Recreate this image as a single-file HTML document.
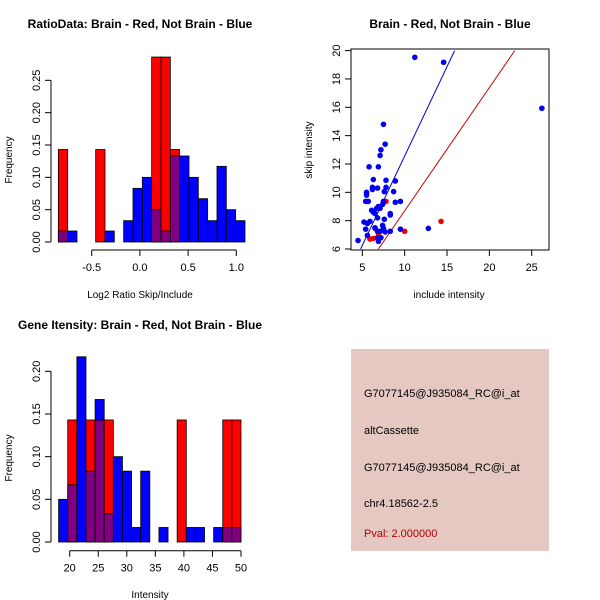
<!DOCTYPE html>
<html><head><meta charset="utf-8"><style>
html,body{margin:0;padding:0;background:#fff;}
svg{display:block;font-family:"Liberation Sans",sans-serif;}
</style></head><body>
<svg id="c" width="600" height="600" xmlns="http://www.w3.org/2000/svg">
<rect width="600" height="600" fill="#fff"/>
<g id="p1"></g>
<g id="p2"></g>
<g id="p3"></g>
<g>
<rect x="351" y="349" width="198" height="202" fill="#e5c8c2"/>
<text x="364" y="397" font-size="11" fill="#000">G7077145@J935084_RC@i_at</text>
<text x="364" y="434" font-size="11" fill="#000">altCassette</text>
<text x="364" y="471" font-size="11" fill="#000">G7077145@J935084_RC@i_at</text>
<text x="364" y="507" font-size="11" fill="#000">chr4.18562-2.5</text>
<text x="364" y="537" font-size="11" fill="#b00000">Pval: 2.000000</text>
</g>
</svg>
<script>
// ---- Plot 1 data: ratio histogram ----
const ratioBinStart = -0.846;
const ratioBinWidth = 0.0968;
const ratioRed  = [0.143,0,0,0,0.143,0,0,0,0,0,0.286,0.286,0.143,0,0,0,0,0,0,0];
const ratioBlue = [0.017,0.017,0,0,0,0.017,0,0.033,0.083,0.1,0.05,0.017,0.133,0.133,0.1,0.067,0.033,0.117,0.05,0.033];
const ratioXTicks = [-0.5,0,0.5,1.0];
const ratioXLabels = ["-0.5","0.0","0.5","1.0"];
const ratioYTicks = [0,0.05,0.10,0.15,0.20,0.25];
const ratioYLabels = ["0.00","0.05","0.10","0.15","0.20","0.25"];
// ---- Plot 2 data: scatter ----
const blueX = [11.2,14.6,26.2,7.5,7.7,7.2,7.1,5.8,6.9,6.3,7.8,8.9,5.5,5.5,6.2,6.2,6.8,7.8,7.6,8.7,5.4,5.7,7.5,7.4,8.9,9.5,6.1,6.3,6.7,6.9,7.1,6.5,6.8,8.3,8.3,7.6,5.2,5.6,5.9,7.4,7.5,5.4,6.5,6.8,7.1,7.7,8.3,9.5,12.8,5.6,6.8,7.2,6.9,4.5];
const blueY = [19.53,19.18,15.93,14.8,13.4,13.0,12.6,11.8,11.8,10.9,10.85,10.8,10.0,9.8,10.35,10.2,10.3,10.35,10.05,10.05,9.36,9.36,9.36,9.15,9.3,9.36,8.73,8.6,8.87,9.0,8.87,8.5,8.2,8.4,8.5,8.1,7.9,7.8,7.95,7.67,7.45,7.4,7.5,7.25,7.25,7.2,7.25,7.4,7.45,6.96,6.8,6.8,6.54,6.6];
const redX = [7.8,14.3,10.0,6.5,5.9,6.3,6.9];
const redY = [9.36,7.95,7.25,7.45,6.7,6.75,7.1];
const blueLine = [[4.8,6],[15.9,20]];
const redLine = [[6.9,6],[23,20]];
const scXTicks = [5,10,15,20,25];
const scYTicks = [6,8,10,12,14,16,18,20];
// ---- Plot 3 data: gene intensity histogram ----
const geneBinStart = 18.06;
const geneBinWidth = 1.597;
const geneRed  = [0,0.143,0,0.143,0.143,0.143,0,0,0,0,0,0,0,0.143,0,0,0,0,0.143,0.143];
const geneBlue = [0.05,0.067,0.217,0.083,0.167,0.033,0.1,0.083,0.017,0.083,0,0.017,0,0,0.017,0.017,0,0.017,0.017,0.017];
const geneXTicks = [20,25,30,35,40,45,50];
const geneYTicks = [0,0.05,0.10,0.15,0.20];
const geneYLabels = ["0.00","0.05","0.10","0.15","0.20"];

const NS="http://www.w3.org/2000/svg";
function mk(parent,tag,attrs,text){const e=document.createElementNS(NS,tag);for(const k in attrs)e.setAttribute(k,attrs[k]);if(text!==undefined)e.textContent=text;parent.appendChild(e);return e;}

function hist(g,o){
  const sx=v=>o.x0px+(v-o.x0)*o.xs, sy=v=>o.y0px-v*o.ys;
  for(let i=0;i<o.red.length;i++){
    const a=o.binStart+i*o.binW, b=a+o.binW, r=o.red[i], bl=o.blue[i];
    const hi=Math.max(r,bl), lo=Math.min(r,bl);
    if(hi>0){
      const e=mk(g,'rect',{x:sx(a),y:sy(hi),width:sx(b)-sx(a),height:sy(0)-sy(hi),fill:r>=bl?'#ff0000':'#0000ff',stroke:'#000','stroke-width':0.8});
      
      
    }
    if(lo>0){
      const e=mk(g,'rect',{x:sx(a),y:sy(lo),width:sx(b)-sx(a),height:sy(0)-sy(lo),fill:'#800080',stroke:'#000','stroke-width':0.8});
      
      
    }
  }
  // y axis
  const ya=mk(g,'line',{x1:51,x2:51,y1:sy(o.yTicks[0]),y2:sy(o.yTicks[o.yTicks.length-1]),stroke:'#000'});
  
  
  o.yTicks.forEach((t,i)=>{
    mk(g,'line',{x1:45,x2:51,y1:sy(t),y2:sy(t),stroke:'#000'});
    const tx=mk(g,'text',{x:0,y:0,'font-size':11,'text-anchor':'middle',transform:`translate(40,${sy(t)}) rotate(-90)`},o.yLabels[i]);
    
    
  });
  const ax=o.xAxisY;
  const xa=mk(g,'line',{x1:sx(o.xTicks[0]),x2:sx(o.xTicks[o.xTicks.length-1]),y1:ax,y2:ax,stroke:'#000'});
  
  
  o.xTicks.forEach((t,i)=>{
    mk(g,'line',{x1:sx(t),x2:sx(t),y1:ax,y2:ax+6,stroke:'#000'});
    const tx=mk(g,'text',{x:sx(t),y:ax+21,'font-size':11,'text-anchor':'middle'},o.xLabels[i]);
    
    
  });
  const yl=mk(g,'text',{x:0,y:0,'font-size':10,'text-anchor':'middle',transform:`translate(12,${o.yLabelY}) rotate(-90)`},'Frequency');
  
  
  const xl=mk(g,'text',{x:o.xLabelX,y:o.xLabelY,'font-size':10,'text-anchor':'middle'},o.xLabel);
  
  
  const tt=mk(g,'text',{x:o.titleX,y:o.titleY,'font-size':12,'font-weight':'bold','text-anchor':'middle'},o.title);
  
  
}

hist(document.getElementById('p1'),{
  x0:-0.5,x0px:91.7,xs:96.4,y0px:242,ys:646.7,
  binStart:ratioBinStart,binW:ratioBinWidth,red:ratioRed,blue:ratioBlue,
  xTicks:ratioXTicks,xLabels:ratioXLabels,yTicks:ratioYTicks,yLabels:ratioYLabels,
  xAxisY:250,yLabelY:160,xLabelX:140,xLabelY:298,xLabel:'Log2 Ratio Skip/Include',
  titleX:140,titleY:28,title:'RatioData: Brain - Red, Not Brain - Blue'});

hist(document.getElementById('p3'),{
  x0:20,x0px:69.7,xs:5.71,y0px:542,ys:853.5,
  binStart:geneBinStart,binW:geneBinWidth,red:geneRed,blue:geneBlue,
  xTicks:geneXTicks,xLabels:geneXTicks.map(String),yTicks:geneYTicks,yLabels:geneYLabels,
  xAxisY:550.7,yLabelY:458,xLabelX:150,xLabelY:598,xLabel:'Intensity',
  titleX:140,titleY:329,title:'Gene Itensity: Brain - Red, Not Brain - Blue'});

// scatter
(function(){
  const g=document.getElementById('p2');
  const sx=v=>362.3+(v-5)*8.47, sy=v=>249-(v-6)*14.17;
  const box=mk(g,'rect',{x:351,y:49,width:198,height:201,fill:'none',stroke:'#000'});
  
  
  const cp=mk(g,'clipPath',{id:'clip2'});mk(cp,'rect',{x:351,y:49,width:198,height:201});
  const bl=mk(g,'line',{x1:sx(blueLine[0][0]),y1:sy(blueLine[0][1]),x2:sx(blueLine[1][0]),y2:sy(blueLine[1][1]),stroke:'#0000cc','clip-path':'url(#clip2)'});
  
  
  const rl=mk(g,'line',{x1:sx(redLine[0][0]),y1:sy(redLine[0][1]),x2:sx(redLine[1][0]),y2:sy(redLine[1][1]),stroke:'#cc0000','clip-path':'url(#clip2)'});
  
  
  redX.forEach((x,i)=>{
    const c=mk(g,'circle',{cx:sx(x),cy:sy(redY[i]),r:2.8,fill:'#ee0000'});
    
    
  });
  blueX.forEach((x,i)=>{
    const c=mk(g,'circle',{cx:sx(x),cy:sy(blueY[i]),r:2.8,fill:'#0000ee'});
    
    
  });
  scXTicks.forEach(t=>{
    mk(g,'line',{x1:sx(t),x2:sx(t),y1:250,y2:256,stroke:'#000'});
    const tx=mk(g,'text',{x:sx(t),y:271,'font-size':11,'text-anchor':'middle'},String(t));
    
    
  });
  scYTicks.forEach(t=>{
    mk(g,'line',{x1:345,x2:351,y1:sy(t),y2:sy(t),stroke:'#000'});
    const tx=mk(g,'text',{x:0,y:0,'font-size':11,'text-anchor':'middle',transform:`translate(340,${sy(t)}) rotate(-90)`},String(t));
    
    
  });
  const xl=mk(g,'text',{x:449,y:298,'font-size':10,'text-anchor':'middle'},'include intensity');
  
  
  const yl=mk(g,'text',{x:0,y:0,'font-size':10,'text-anchor':'middle',transform:'translate(312,150) rotate(-90)'},'skip intensity');
  
  
  const tt=mk(g,'text',{x:450,y:28,'font-size':12,'font-weight':'bold','text-anchor':'middle'},'Brain - Red, Not Brain - Blue');
  
  
})();
</script>
</body></html>
